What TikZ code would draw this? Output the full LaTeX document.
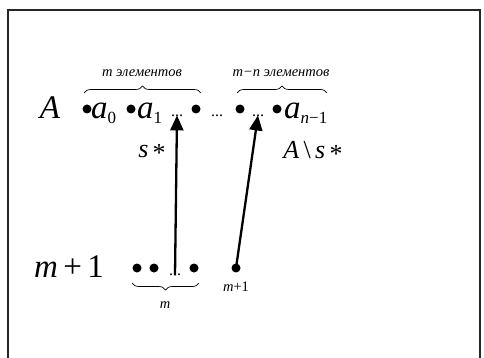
\documentclass[tikz,border=0pt]{standalone}
\usepackage{fontspec}
\setmainfont{Liberation Serif}
\usetikzlibrary{arrows.meta,decorations.pathreplacing}
\newcommand{\bigfs}{\fontsize{33}{35}\selectfont}
\newcommand{\midfs}{\fontsize{26}{28}\selectfont}
\newcommand{\lblfs}{\fontsize{14.5}{16}\selectfont\itshape}
\newcommand{\lowsub}[1]{\raisebox{-5pt}{\fontsize{17}{19}\selectfont #1}}
\newcommand{\astr}{\raisebox{-0.12em}{\upshape *}}
\tikzset{
  pt/.style={circle,fill=black,inner sep=0pt,minimum size=9pt},
  mtext/.style={inner sep=0pt,font=\bigfs\itshape},
  ltext/.style={inner sep=0pt,font=\midfs\itshape},
  ell/.style={inner sep=0pt,font=\fontsize{16}{18}\selectfont},
  brc/.style={decorate,decoration={brace,amplitude=7pt},line width=0.7pt},
  arr/.style={line width=2.3pt,-{Triangle[length=15pt,width=13pt]}},
  frame/.style={line width=1.4pt,draw=black!85}
}
\begin{document}
\begin{tikzpicture}[x=1pt,y=-1pt]
\useasboundingbox (0,0) rectangle (484,358);
% border
\draw[frame] (8,358) -- (8,10) -- (480,10) -- (480,358);

% upper row: the set A
\node[mtext] (A) at (50,108) {A};
\node[pt] (d1) at (87,109) {};
\node[mtext,anchor=base west] (a0) at (91,119) {a\lowsub{\upshape 0}};
\node[pt] (d2) at (131,109) {};
\node[mtext,anchor=base west] (a1) at (137,119) {a\lowsub{\upshape 1}};
\node[ell,anchor=base] (e1) at (177,117) {...};
\node[pt] (d3) at (196,109) {};
\node[ell,anchor=base] (e2) at (217,117) {...};
\node[pt] (d4) at (240,109) {};
\node[ell,anchor=base] (e3) at (258,117) {...};
\node[pt] (d5) at (277,109) {};
\node[mtext,anchor=base west] (an) at (284,119) {a\lowsub{n\upshape −1}};

% braces over the groups
\draw[brc] (84,93) -- (201,93);
\node[inner sep=0pt,font=\lblfs] (g1) at (142,73) {m элементов};
\draw[brc] (237,93) -- (327,93);
\node[inner sep=0pt,font=\lblfs] (g2) at (281,73) {m−n элементов};

% labels under the row
\node[ltext,anchor=base] (s) at (152,158) {s\,\astr};
\node[ltext,anchor=base] (As) at (313,159) {A\,{\upshape\textbackslash}\,s\,\astr};

% lower row
\node[mtext,anchor=base] (m1) at (69,277) {m{\upshape\hspace{0.16em}+\hspace{0.16em}1}};
\node[pt] (b1) at (137,268) {};
\node[pt] (b2) at (154,268) {};
\node[ell,anchor=base] (e4) at (175,275) {...};
\node[pt] (b3) at (194,268) {};
\node[pt] (b4) at (236,268) {};
\node[inner sep=0pt,font=\lblfs] (mm) at (236,287) {m{\upshape +1}};
\draw[brc] (199,283) -- (132,283);
\node[inner sep=0pt,font=\lblfs] (m) at (165,305) {m};

% arrows
\draw[arr] (e4.south) -- ([yshift=2pt]e1.south);
\draw[arr] (b4.center) -- ([yshift=2pt]e3.south);
\end{tikzpicture}
\end{document}
